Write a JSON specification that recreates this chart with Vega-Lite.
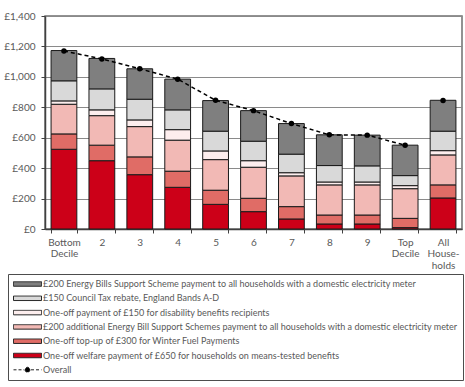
{
  "$schema": "https://vega.github.io/schema/vega-lite/v6.json",
  "width": 417,
  "height": 213,
  "autosize": "none",
  "padding": {"left": 45, "top": 16, "right": 3, "bottom": 158},
  "background": "white",
  "config": {
    "font": "Lato",
    "view": {"stroke": "#6f6f6f", "strokeWidth": 1.5},
    "axis": {"labelColor": "#595959", "labelFontSize": 10, "titleColor": "#404040"},
    "axisY": {
      "title": null,
      "values": [0, 200, 400, 600, 800, 1000, 1200, 1400],
      "labelExpr": "'£' + format(datum.value, ',')",
      "gridColor": "#8a8a8a", "gridWidth": 1.2,
      "domainColor": "#404040", "domainWidth": 1.5,
      "tickColor": "#404040", "tickSize": 4, "labelPadding": 6
    },
    "axisX": {
      "title": "Net Equivalised Income Decile",
      "titleFontWeight": "bold", "titleFontSize": 10,
      "titleY": 18, "titleBaseline": "top",
      "labelAngle": 0, "labelPadding": 4, "labelLineHeight": 11.5,
      "labelExpr": "datum.value == 'Bottom Decile' ? ['Bottom', 'Decile'] : datum.value == 'Top Decile' ? ['Top', 'Decile'] : datum.value == 'All Households' ? ['All', 'House-', 'holds'] : datum.value",
      "tickBand": "extent", "tickColor": "#404040", "tickSize": 4,
      "domainColor": "#404040", "domainWidth": 1.5
    }
  },
  "datasets": {
    "parts": [
      {"decile": "Bottom Decile", "series": "One-off welfare payment of £650 for households on means-tested benefits", "pos": 1, "value": 524},
      {"decile": "Bottom Decile", "series": "One-off  top-up of £300 for Winter Fuel Payments", "pos": 2, "value": 101},
      {"decile": "Bottom Decile", "series": "£200 additional Energy Bill Support Schemes payment to all households with a domestic electricity meter", "pos": 3, "value": 195},
      {"decile": "Bottom Decile", "series": "One-off payment of £150 for  disability benefits  recipients", "pos": 4, "value": 22},
      {"decile": "Bottom Decile", "series": "£150 Council Tax rebate, England Bands A-D", "pos": 5, "value": 132},
      {"decile": "Bottom Decile", "series": "£200 Energy Bills Support Scheme payment to all households with a domestic electricity meter", "pos": 6, "value": 199},
      {"decile": "2", "series": "One-off welfare payment of £650 for households on means-tested benefits", "pos": 1, "value": 449},
      {"decile": "2", "series": "One-off  top-up of £300 for Winter Fuel Payments", "pos": 2, "value": 102},
      {"decile": "2", "series": "£200 additional Energy Bill Support Schemes payment to all households with a domestic electricity meter", "pos": 3, "value": 194},
      {"decile": "2", "series": "One-off payment of £150 for  disability benefits  recipients", "pos": 4, "value": 38},
      {"decile": "2", "series": "£150 Council Tax rebate, England Bands A-D", "pos": 5, "value": 138},
      {"decile": "2", "series": "£200 Energy Bills Support Scheme payment to all households with a domestic electricity meter", "pos": 6, "value": 200},
      {"decile": "3", "series": "One-off welfare payment of £650 for households on means-tested benefits", "pos": 1, "value": 357},
      {"decile": "3", "series": "One-off  top-up of £300 for Winter Fuel Payments", "pos": 2, "value": 117},
      {"decile": "3", "series": "£200 additional Energy Bill Support Schemes payment to all households with a domestic electricity meter", "pos": 3, "value": 199},
      {"decile": "3", "series": "One-off payment of £150 for  disability benefits  recipients", "pos": 4, "value": 44},
      {"decile": "3", "series": "£150 Council Tax rebate, England Bands A-D", "pos": 5, "value": 136},
      {"decile": "3", "series": "£200 Energy Bills Support Scheme payment to all households with a domestic electricity meter", "pos": 6, "value": 200},
      {"decile": "4", "series": "One-off welfare payment of £650 for households on means-tested benefits", "pos": 1, "value": 274},
      {"decile": "4", "series": "One-off  top-up of £300 for Winter Fuel Payments", "pos": 2, "value": 106},
      {"decile": "4", "series": "£200 additional Energy Bill Support Schemes payment to all households with a domestic electricity meter", "pos": 3, "value": 204},
      {"decile": "4", "series": "One-off payment of £150 for  disability benefits  recipients", "pos": 4, "value": 69},
      {"decile": "4", "series": "£150 Council Tax rebate, England Bands A-D", "pos": 5, "value": 130},
      {"decile": "4", "series": "£200 Energy Bills Support Scheme payment to all households with a domestic electricity meter", "pos": 6, "value": 202},
      {"decile": "5", "series": "One-off welfare payment of £650 for households on means-tested benefits", "pos": 1, "value": 162},
      {"decile": "5", "series": "One-off  top-up of £300 for Winter Fuel Payments", "pos": 2, "value": 93},
      {"decile": "5", "series": "£200 additional Energy Bill Support Schemes payment to all households with a domestic electricity meter", "pos": 3, "value": 201},
      {"decile": "5", "series": "One-off payment of £150 for  disability benefits  recipients", "pos": 4, "value": 57},
      {"decile": "5", "series": "£150 Council Tax rebate, England Bands A-D", "pos": 5, "value": 130},
      {"decile": "5", "series": "£200 Energy Bills Support Scheme payment to all households with a domestic electricity meter", "pos": 6, "value": 201},
      {"decile": "6", "series": "One-off welfare payment of £650 for households on means-tested benefits", "pos": 1, "value": 114},
      {"decile": "6", "series": "One-off  top-up of £300 for Winter Fuel Payments", "pos": 2, "value": 88},
      {"decile": "6", "series": "£200 additional Energy Bill Support Schemes payment to all households with a domestic electricity meter", "pos": 3, "value": 204},
      {"decile": "6", "series": "One-off payment of £150 for  disability benefits  recipients", "pos": 4, "value": 43},
      {"decile": "6", "series": "£150 Council Tax rebate, England Bands A-D", "pos": 5, "value": 128},
      {"decile": "6", "series": "£200 Energy Bills Support Scheme payment to all households with a domestic electricity meter", "pos": 6, "value": 201},
      {"decile": "7", "series": "One-off welfare payment of £650 for households on means-tested benefits", "pos": 1, "value": 66},
      {"decile": "7", "series": "One-off  top-up of £300 for Winter Fuel Payments", "pos": 2, "value": 81},
      {"decile": "7", "series": "£200 additional Energy Bill Support Schemes payment to all households with a domestic electricity meter", "pos": 3, "value": 202},
      {"decile": "7", "series": "One-off payment of £150 for  disability benefits  recipients", "pos": 4, "value": 21},
      {"decile": "7", "series": "£150 Council Tax rebate, England Bands A-D", "pos": 5, "value": 122},
      {"decile": "7", "series": "£200 Energy Bills Support Scheme payment to all households with a domestic electricity meter", "pos": 6, "value": 201},
      {"decile": "8", "series": "One-off welfare payment of £650 for households on means-tested benefits", "pos": 1, "value": 33},
      {"decile": "8", "series": "One-off  top-up of £300 for Winter Fuel Payments", "pos": 2, "value": 59},
      {"decile": "8", "series": "£200 additional Energy Bill Support Schemes payment to all households with a domestic electricity meter", "pos": 3, "value": 198},
      {"decile": "8", "series": "One-off payment of £150 for  disability benefits  recipients", "pos": 4, "value": 19},
      {"decile": "8", "series": "£150 Council Tax rebate, England Bands A-D", "pos": 5, "value": 108},
      {"decile": "8", "series": "£200 Energy Bills Support Scheme payment to all households with a domestic electricity meter", "pos": 6, "value": 202},
      {"decile": "9", "series": "One-off welfare payment of £650 for households on means-tested benefits", "pos": 1, "value": 33},
      {"decile": "9", "series": "One-off  top-up of £300 for Winter Fuel Payments", "pos": 2, "value": 59},
      {"decile": "9", "series": "£200 additional Energy Bill Support Schemes payment to all households with a domestic electricity meter", "pos": 3, "value": 198},
      {"decile": "9", "series": "One-off payment of £150 for  disability benefits  recipients", "pos": 4, "value": 19},
      {"decile": "9", "series": "£150 Council Tax rebate, England Bands A-D", "pos": 5, "value": 106},
      {"decile": "9", "series": "£200 Energy Bills Support Scheme payment to all households with a domestic electricity meter", "pos": 6, "value": 202},
      {"decile": "Top Decile", "series": "One-off welfare payment of £650 for households on means-tested benefits", "pos": 1, "value": 9},
      {"decile": "Top Decile", "series": "One-off  top-up of £300 for Winter Fuel Payments", "pos": 2, "value": 61},
      {"decile": "Top Decile", "series": "£200 additional Energy Bill Support Schemes payment to all households with a domestic electricity meter", "pos": 3, "value": 195},
      {"decile": "Top Decile", "series": "One-off payment of £150 for  disability benefits  recipients", "pos": 4, "value": 20},
      {"decile": "Top Decile", "series": "£150 Council Tax rebate, England Bands A-D", "pos": 5, "value": 66},
      {"decile": "Top Decile", "series": "£200 Energy Bills Support Scheme payment to all households with a domestic electricity meter", "pos": 6, "value": 200},
      {"decile": "All Households", "series": "One-off welfare payment of £650 for households on means-tested benefits", "pos": 1, "value": 204},
      {"decile": "All Households", "series": "One-off  top-up of £300 for Winter Fuel Payments", "pos": 2, "value": 86},
      {"decile": "All Households", "series": "£200 additional Energy Bill Support Schemes payment to all households with a domestic electricity meter", "pos": 3, "value": 197},
      {"decile": "All Households", "series": "One-off payment of £150 for  disability benefits  recipients", "pos": 4, "value": 28},
      {"decile": "All Households", "series": "£150 Council Tax rebate, England Bands A-D", "pos": 5, "value": 128},
      {"decile": "All Households", "series": "£200 Energy Bills Support Scheme payment to all households with a domestic electricity meter", "pos": 6, "value": 203}
    ],
    "overall": [
      {"decile": "Bottom Decile", "total": 1170},
      {"decile": "2", "total": 1118},
      {"decile": "3", "total": 1053},
      {"decile": "4", "total": 985},
      {"decile": "5", "total": 846},
      {"decile": "6", "total": 778},
      {"decile": "7", "total": 693},
      {"decile": "8", "total": 619},
      {"decile": "9", "total": 617},
      {"decile": "Top Decile", "total": 551},
      {"decile": "All Households", "total": 845}
    ]
  },
  "layer": [
    {
      "data": {"name": "parts"},
      "mark": {"type": "bar", "stroke": "#1a1a1a", "strokeWidth": 1},
      "encoding": {
        "x": {
          "field": "decile", "type": "nominal", "sort": null,
          "scale": {"paddingInner": 0.32, "paddingOuter": 0.16}
        },
        "y": {
          "field": "value", "type": "quantitative", "aggregate": "sum",
          "stack": "zero",
          "scale": {"domain": [0, 1400]}
        },
        "order": {"field": "pos", "type": "quantitative", "aggregate": "min"},
        "color": {
          "field": "series", "type": "nominal",
          "scale": {
            "domain": [
              "£200 Energy Bills Support Scheme payment to all households with a domestic electricity meter",
              "£150 Council Tax rebate, England Bands A-D",
              "One-off payment of £150 for  disability benefits  recipients",
              "£200 additional Energy Bill Support Schemes payment to all households with a domestic electricity meter",
              "One-off  top-up of £300 for Winter Fuel Payments",
              "One-off welfare payment of £650 for households on means-tested benefits",
              "Overall"
            ],
            "range": ["#7f7f7f", "#d9d9d9", "#fdeeee", "#f2b9b5", "#e06c66", "#cc0018", "#000000"]
          },
          "legend": {
            "title": null,
            "orient": "none",
            "legendX": -37,
            "legendY": 258,
            "direction": "vertical",
            "columns": 1,
            "padding": 5,
            "strokeColor": "#4d4d4d",
            "labelFontSize": 9,
            "labelColor": "#595959",
            "labelLimit": 440,
            "rowPadding": 4.3,
            "clipHeight": 10,
            "symbolOffset": 0,
            "symbolType": "M-1,-0.16H1V0.16H-1Z",
            "symbolSize": 784,
            "symbolStrokeColor": "#222222",
            "symbolStrokeWidth": 1,
            "labelOffset": 1,
            "encode": {
              "symbols": {
                "update": {
                  "shape": {"signal": "datum.value == 'Overall' ? 'M-1,0H-0.25M0.25,0H1M-0.18,0A0.18,0.18 0 1,0 0.18,0A0.18,0.18 0 1,0 -0.18,0Z' : 'M-1,-0.16H1V0.16H-1Z'"},
                  "strokeDash": {"signal": "datum.value == 'Overall' ? [3, 2] : [1, 0]"}
                }
              }
            }
          }
        }
      }
    },
    {
      "data": {"name": "overall"},
      "transform": [{"filter": "datum.decile != 'All Households'"}],
      "mark": {"type": "line", "color": "#000000", "strokeDash": [4, 3], "strokeWidth": 1.5},
      "encoding": {
        "x": {"field": "decile", "type": "nominal", "sort": null},
        "y": {"field": "total", "type": "quantitative"}
      }
    },
    {
      "data": {"name": "overall"},
      "mark": {"type": "point", "filled": true, "color": "#000000", "size": 30, "opacity": 1},
      "encoding": {
        "x": {"field": "decile", "type": "nominal", "sort": null},
        "y": {"field": "total", "type": "quantitative"}
      }
    }
  ]
}
